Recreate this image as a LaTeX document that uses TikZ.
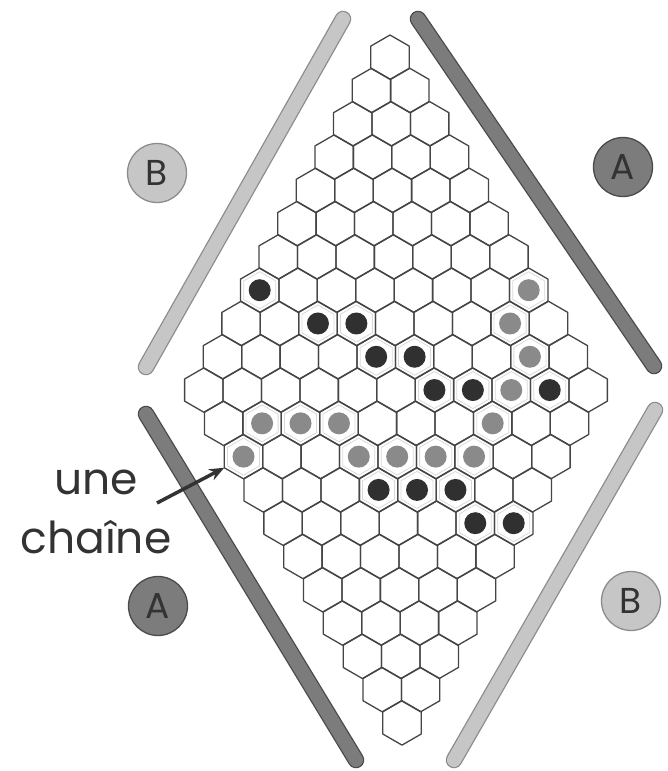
\documentclass[tikz,border=0pt]{standalone}
\usepackage{fontspec}
\setsansfont{Poppins}
\usetikzlibrary{arrows.meta,calc}

\definecolor{hexline}{HTML}{454545}
\definecolor{greystone}{HTML}{8A8A8A}
\definecolor{blackstone}{HTML}{303030}
\definecolor{lightfill}{HTML}{C6C6C6}
\definecolor{lightedge}{HTML}{8C8C8C}
\definecolor{darkfill}{HTML}{7C7C7C}
\definecolor{darkedge}{HTML}{4A4A4A}
\definecolor{inktext}{HTML}{333333}

\tikzset{
  hexcell/.style={draw=hexline, line width=1.3pt, line join=round},
  hexinner/.style={draw=gray!30, line width=0.8pt},
  stonegrey/.style={circle, fill=greystone, inner sep=0pt, minimum size=22pt},
  stoneblack/.style={circle, fill=blackstone, inner sep=0pt, minimum size=22pt},
  lightbar/.style={line cap=round, line width=1.3pt, draw=lightedge,
    double=lightfill, double distance=14pt},
  darkbar/.style={line cap=round, line width=1.3pt, draw=darkedge,
    double=darkfill, double distance=14pt},
  sidelight/.style={circle, draw=lightedge, fill=lightfill, line width=1.3pt,
    minimum size=59pt, inner sep=0pt, font=\sffamily\fontsize{36}{36}\selectfont,
    text=inktext},
  sidedark/.style={circle, draw=darkedge, fill=darkfill, line width=1.3pt,
    minimum size=59pt, inner sep=0pt, font=\sffamily\fontsize{36}{36}\selectfont,
    text=inktext},
  chainarrow/.style={draw=inktext, line width=3.5pt,
    -{Stealth[length=15pt, width=12pt]}}
}

\begin{document}
\begin{tikzpicture}[x=1pt, y=-1pt]
  \useasboundingbox (0,0) rectangle (667,771);
  % the 11 x 11 board, one cell per (i,j)
  \foreach \i in {0,...,10}{
    \foreach \j in {0,...,10}{
      \pgfmathsetmacro{\cx}{390+(\j-\i)*19.215+0.6*(\i+\j)}
      \pgfmathsetmacro{\cy}{57.2+(\i+\j)*33.285}
      \coordinate (c\i-\j) at (\cx,\cy);
      \draw[hexcell] (c\i-\j) +(30:22.19) -- +(90:22.19) -- +(150:22.19)
        -- +(210:22.19) -- +(270:22.19) -- +(330:22.19) -- cycle;
    }
  }
  % grey stones (the chain from A to A)
  \foreach \i/\j in {0/7,1/7,1/8,2/8,3/8,4/8,5/7,6/6,7/5,7/4,8/3,9/2,10/2}{
    \draw[hexinner] (c\i-\j) +(30:18.5) -- +(90:18.5) -- +(150:18.5)
      -- +(210:18.5) -- +(270:18.5) -- +(330:18.5) -- cycle;
    \node[stonegrey] (g\i-\j) at (c\i-\j) {};
  }
  % black stones
  \foreach \i/\j in {7/0,6/2,5/3,5/4,4/5,4/6,3/7,1/9,7/6,6/7,5/8,5/9,4/10}{
    \draw[hexinner] (c\i-\j) +(30:18.5) -- +(90:18.5) -- +(150:18.5)
      -- +(210:18.5) -- +(270:18.5) -- +(330:18.5) -- cycle;
    \node[stoneblack] (k\i-\j) at (c\i-\j) {};
  }
  % side bars
  \draw[lightbar] (343,19) -- (146,367);
  \draw[darkbar] (418,19) -- (654,366);
  \draw[darkbar] (146,414) -- (356,760);
  \draw[lightbar] (655,410) -- (454,760);
  % side labels
  \node[sidelight] (sideBtop) at (157,173) {B};
  \node[sidedark] (sideAtop) at (623,167) {A};
  \node[sidedark] (sideAbot) at (158,606) {A};
  \node[sidelight] (sideBbot) at (631,601) {B};
  % label and arrow
  \node[font=\sffamily\fontsize{44}{59}\selectfont, text=inktext, align=center,
    inner sep=0pt] (chain) at (96,512) {une\\chaîne};
  \coordinate (chaintail) at (157,503);
  \coordinate (chaintip) at ($(c10-2)+(-19.2,11.1)$);
  \draw[chainarrow] (chaintail) -- (chaintip);
\end{tikzpicture}
\end{document}
